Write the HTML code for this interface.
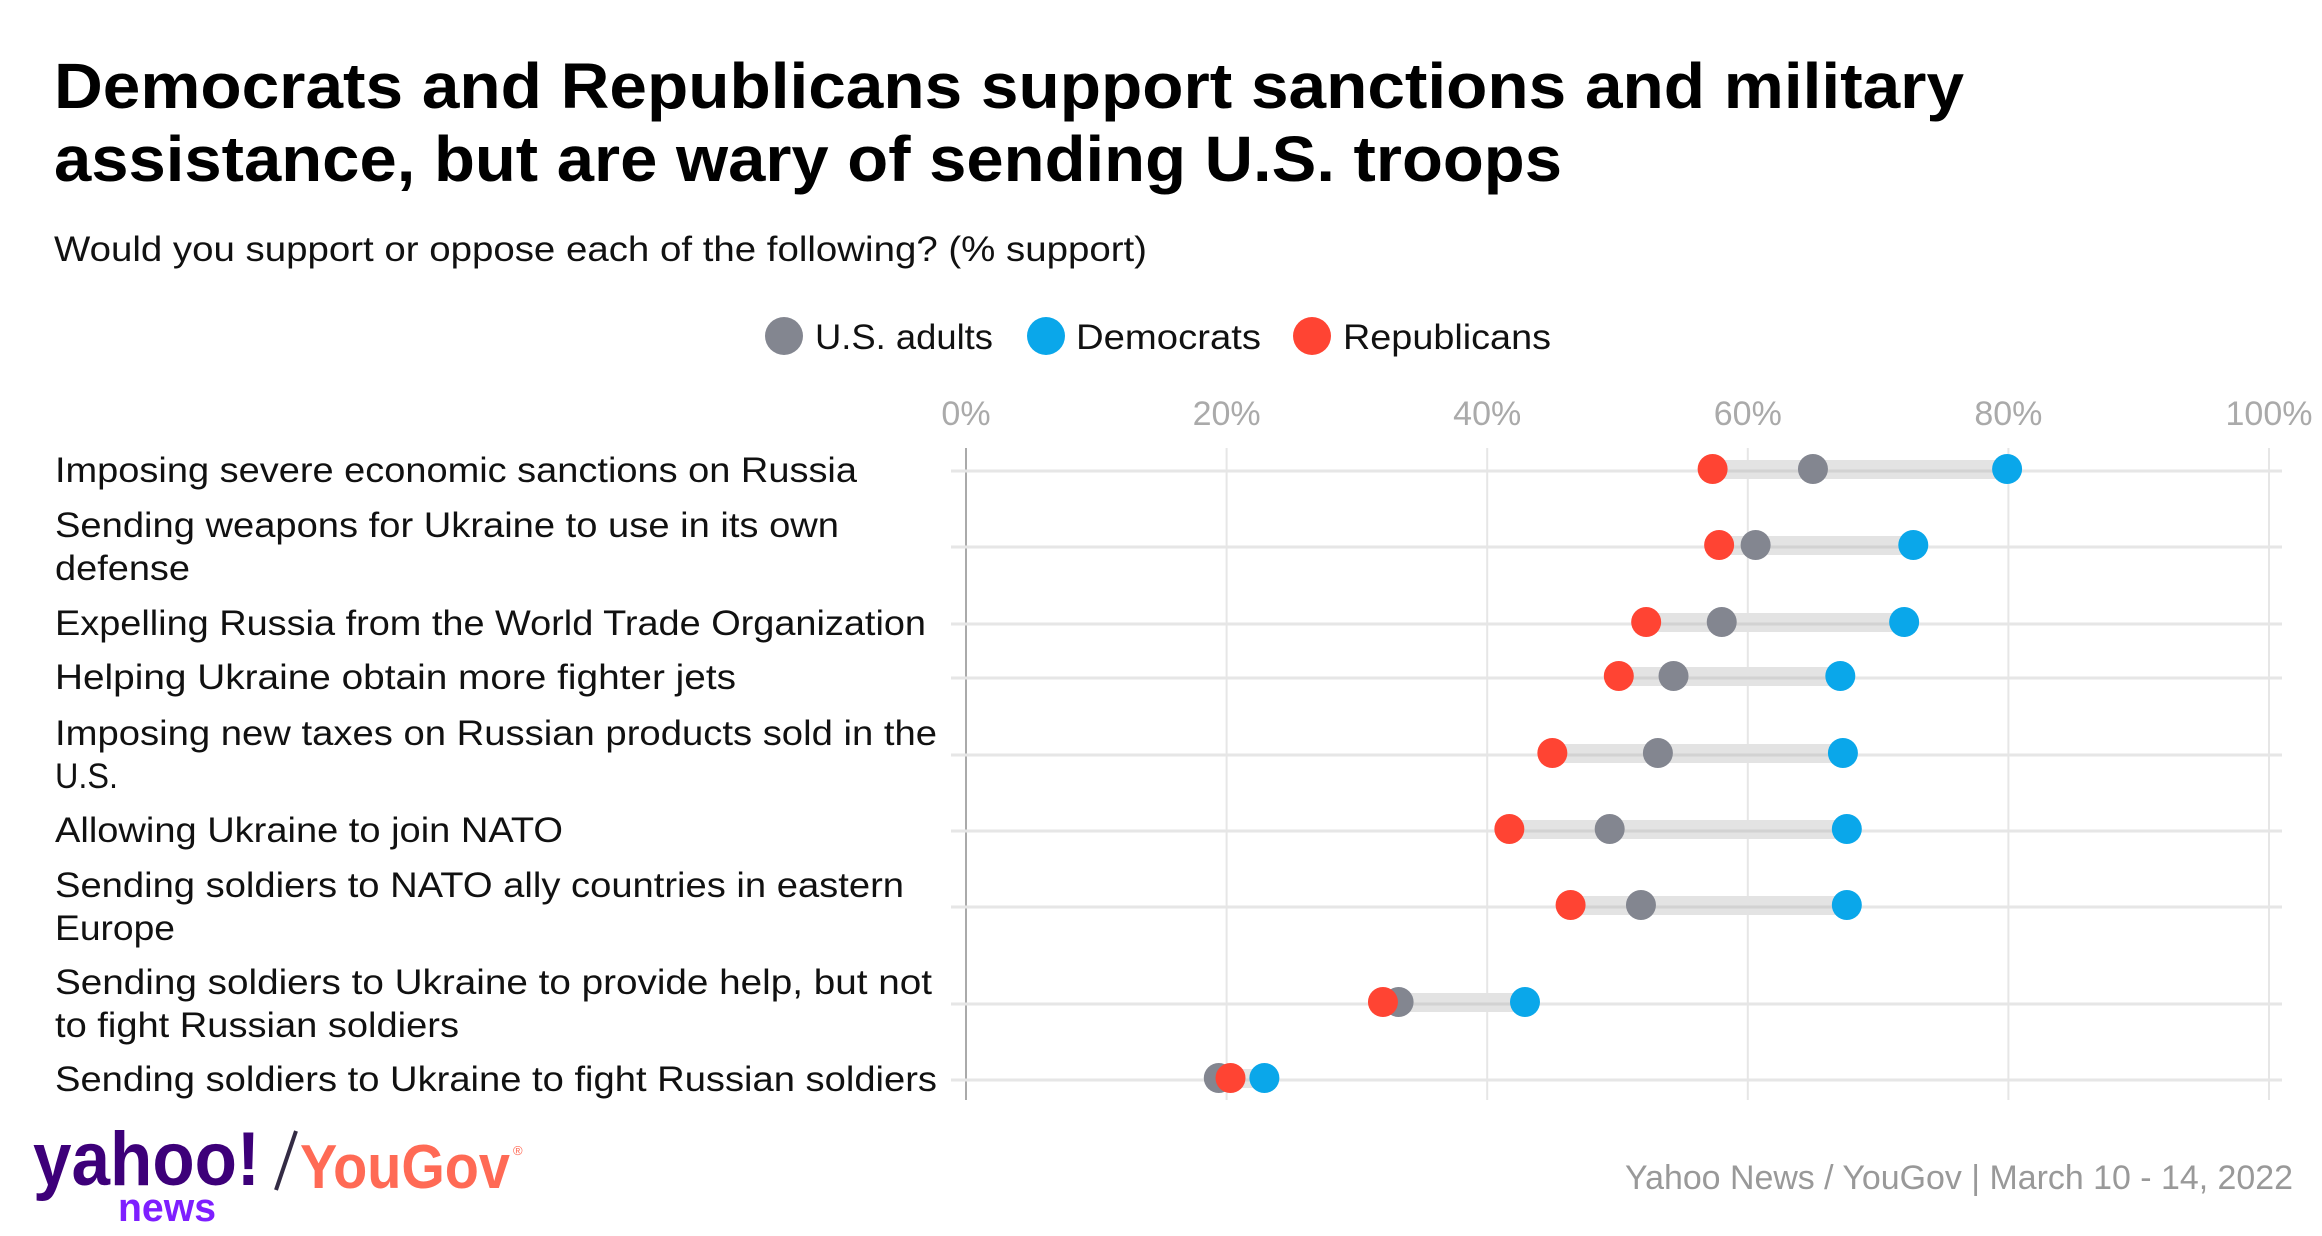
<!DOCTYPE html>
<html><head><meta charset="utf-8"><style>
html,body{margin:0;padding:0;background:#fff;}
svg{display:block;font-family:"Liberation Sans",sans-serif;}
</style></head><body>
<svg id="chart" width="2322" height="1236" viewBox="0 0 2322 1236" xmlns="http://www.w3.org/2000/svg">
<text x="54" y="108" font-size="64" font-weight="bold" fill="#000" textLength="1910" lengthAdjust="spacingAndGlyphs">Democrats and Republicans support sanctions and military</text>
<text x="54" y="181" font-size="64" font-weight="bold" fill="#000" textLength="1508" lengthAdjust="spacingAndGlyphs">assistance, but are wary of sending U.S. troops</text>
<text x="54" y="261" font-size="35" fill="#111" textLength="1093" lengthAdjust="spacingAndGlyphs">Would you support or oppose each of the following? (% support)</text>
<g>
<circle cx="784" cy="336" r="19" fill="#838690"/>
<text x="815" y="349" font-size="35" fill="#111" textLength="178" lengthAdjust="spacingAndGlyphs">U.S. adults</text>
<circle cx="1046" cy="336" r="19" fill="#0aa7ea"/>
<text x="1076" y="349" font-size="35" fill="#111" textLength="185" lengthAdjust="spacingAndGlyphs">Democrats</text>
<circle cx="1312" cy="336" r="19" fill="#ff4433"/>
<text x="1343" y="349" font-size="35" fill="#111" textLength="208" lengthAdjust="spacingAndGlyphs">Republicans</text>
</g>
<g id="grid"></g><g id="rows"></g><g id="labels"></g>
<g>
<text x="33" y="1185" font-size="76" font-weight="bold" fill="#3d0079" textLength="227" lengthAdjust="spacingAndGlyphs">yahoo!</text>
<text x="118" y="1221" font-size="40" font-weight="bold" fill="#7e1fff" textLength="98" lengthAdjust="spacingAndGlyphs">news</text>
<line x1="296" y1="1131" x2="276" y2="1190" stroke="#332b44" stroke-width="4"/>
<text x="300" y="1188" font-size="62" font-weight="bold" fill="#ff6a55" textLength="210" lengthAdjust="spacingAndGlyphs">YouGov</text>
<text x="513" y="1155" font-size="13" fill="#ff6a55">®</text>
</g>
<text x="2293" y="1189" font-size="34" fill="#999" text-anchor="end" textLength="668" lengthAdjust="spacingAndGlyphs">Yahoo News / YouGov | March 10 - 14, 2022</text>
</svg>
<script>
const categories=[["Imposing severe economic sanctions on Russia"],["Sending weapons for Ukraine to use in its own","defense"],["Expelling Russia from the World Trade Organization"],["Helping Ukraine obtain more fighter jets"],["Imposing new taxes on Russian products sold in the","U.S."],["Allowing Ukraine to join NATO"],["Sending soldiers to NATO ally countries in eastern","Europe"],["Sending soldiers to Ukraine to provide help, but not","to fight Russian soldiers"],["Sending soldiers to Ukraine to fight Russian soldiers"]];
const usAdults=[65.0,60.6,58.0,54.3,53.1,49.4,51.8,33.2,19.4];
const democrats=[79.9,72.7,72.0,67.1,67.3,67.6,67.6,42.9,22.9];
const republicans=[57.3,57.8,52.2,50.1,45.0,41.7,46.4,32.0,20.3];
const tickValues=[0,20,40,60,80,100];
const tickLabels=["0%","20%","40%","60%","80%","100%"];
const rowYs=[469,545,622,676,753,829,905,1002,1078];
const labelWidths=[[802],[784,135],[871],[681],[882,63],[508],[849,120],[877,404],[882]];
const NS="http://www.w3.org/2000/svg";
const X0=966,X1=2269;
function xs(v){return X0+(X1-X0)*v/100;}
function mk(tag,attrs,parent){const e=document.createElementNS(NS,tag);for(const k in attrs)e.setAttribute(k,attrs[k]);parent.appendChild(e);return e;}
const grid=document.getElementById('grid'),rows=document.getElementById('rows'),labels=document.getElementById('labels');
tickValues.forEach((t,i)=>{
  const l=mk('line',{x1:xs(t),x2:xs(t),y1:448,y2:1100,stroke:t===0?'#aaa':'#e6e6e6','stroke-width':2},grid);
  
  
  const tx=mk('text',{x:xs(t),y:425,'font-size':34,fill:'#aaa','text-anchor':'middle'},grid);
  tx.textContent=tickLabels[i];
  
  
});
categories.forEach((c,i)=>{
  const y=rowYs[i];
  const g=mk('line',{x1:951,x2:2282,y1:y+2,y2:y+2,stroke:'#e6e6e6','stroke-width':3},grid);
  
  
  const vals=[usAdults[i],democrats[i],republicans[i]];
  const mn=Math.min(...vals),mx=Math.max(...vals);
  const band=mk('rect',{x:xs(mn),y:y-9,width:xs(mx)-xs(mn),height:19,fill:'#e3e3e3'},rows);
  
  
  const bl=mk('line',{x1:xs(mn),x2:xs(mx),y1:y+2,y2:y+2,stroke:'#d2d2d2','stroke-width':3},rows);
  
  
  const d1=mk('circle',{cx:xs(usAdults[i]),cy:y,r:15,fill:'#838690'},rows);
  
  
  const d2=mk('circle',{cx:xs(democrats[i]),cy:y,r:15,fill:'#0aa7ea'},rows);
  
  
  const d3=mk('circle',{cx:xs(republicans[i]),cy:y,r:15,fill:'#ff4433'},rows);
  
  
  c.forEach((line,j)=>{
    const t=mk('text',{x:55,y:(c.length===1?y+13:y-8+j*43),'font-size':35,fill:'#111',textLength:labelWidths[i][j],lengthAdjust:'spacingAndGlyphs'},labels);
    t.textContent=line;
    
    
  });
});
</script>
</body></html>
